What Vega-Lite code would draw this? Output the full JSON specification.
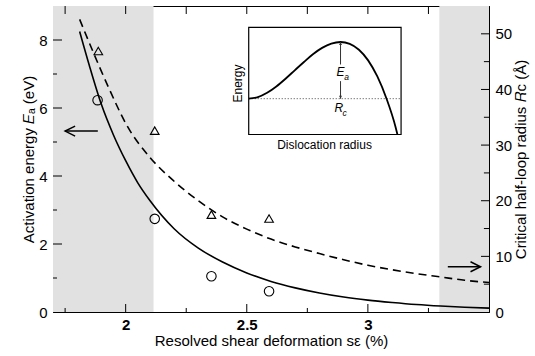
{
  "$schema": "https://vega.github.io/schema/vega-lite/v6.json",
  "width": 436,
  "height": 306,
  "autosize": {"type": "none"},
  "padding": {"left": 53, "top": 6, "right": 46, "bottom": 44},
  "background": "white",
  "config": {
    "view": {"stroke": "black", "strokeWidth": 1},
    "axis": {
      "grid": false,
      "ticks": false,
      "domainColor": "black",
      "domainWidth": 1,
      "labelColor": "black",
      "titleColor": "black",
      "labelFont": "Liberation Sans",
      "titleFont": "Liberation Sans",
      "labelFontSize": 15,
      "titleFontSize": 15,
      "titleFontWeight": "normal"
    },
    "text": {"font": "Liberation Sans", "color": "black"}
  },
  "datasets": {
    "shade": [{"x1": 1.7, "x2": 2.115}, {"x1": 3.295, "x2": 3.5}],
    "ea_fit": [
      {"s": 1.81, "ea": 8.25}, {"s": 1.85, "ea": 7.25}, {"s": 1.9, "ea": 6.1},
      {"s": 1.95, "ea": 5.2}, {"s": 2.0, "ea": 4.45}, {"s": 2.05, "ea": 3.8},
      {"s": 2.1, "ea": 3.28}, {"s": 2.2, "ea": 2.45}, {"s": 2.3, "ea": 1.88},
      {"s": 2.4, "ea": 1.47}, {"s": 2.5, "ea": 1.15}, {"s": 2.6, "ea": 0.9},
      {"s": 2.7, "ea": 0.71}, {"s": 2.8, "ea": 0.56}, {"s": 2.9, "ea": 0.44},
      {"s": 3.0, "ea": 0.35}, {"s": 3.1, "ea": 0.28}, {"s": 3.2, "ea": 0.22},
      {"s": 3.3, "ea": 0.175}, {"s": 3.4, "ea": 0.14}, {"s": 3.5, "ea": 0.115}
    ],
    "ea_pts": [
      {"s": 1.884, "ea": 6.23}, {"s": 2.12, "ea": 2.74},
      {"s": 2.354, "ea": 1.05}, {"s": 2.592, "ea": 0.61}
    ],
    "rc_fit": [
      {"s": 1.81, "rc": 52.6}, {"s": 1.866, "rc": 46.7}, {"s": 1.93, "rc": 40.3},
      {"s": 2.004, "rc": 33.6}, {"s": 2.1, "rc": 27.8}, {"s": 2.2, "rc": 23.5},
      {"s": 2.3, "rc": 20.0}, {"s": 2.4, "rc": 17.1}, {"s": 2.5, "rc": 14.9},
      {"s": 2.6, "rc": 13.1}, {"s": 2.7, "rc": 11.7}, {"s": 2.8, "rc": 10.5},
      {"s": 2.9, "rc": 9.4}, {"s": 3.0, "rc": 8.4}, {"s": 3.1, "rc": 7.6},
      {"s": 3.2, "rc": 6.9}, {"s": 3.3, "rc": 6.3}, {"s": 3.4, "rc": 5.7},
      {"s": 3.5, "rc": 5.3}
    ],
    "rc_pts": [
      {"s": 1.887, "rc": 46.9}, {"s": 2.12, "rc": 32.6},
      {"s": 2.354, "rc": 17.5}, {"s": 2.592, "rc": 16.8}
    ],
    "ticks_x": [
      {"x": 1.75, "y1": 0, "y2": 0.118}, {"x": 2.0, "y1": 0, "y2": 0.235},
      {"x": 2.25, "y1": 0, "y2": 0.118}, {"x": 2.5, "y1": 0, "y2": 0.235},
      {"x": 2.75, "y1": 0, "y2": 0.118}, {"x": 3.0, "y1": 0, "y2": 0.235},
      {"x": 3.25, "y1": 0, "y2": 0.118},
      {"x": 1.75, "y1": 9, "y2": 8.765}, {"x": 2.0, "y1": 9, "y2": 8.765},
      {"x": 2.25, "y1": 9, "y2": 8.765}, {"x": 2.5, "y1": 9, "y2": 8.765},
      {"x": 2.75, "y1": 9, "y2": 8.765}, {"x": 3.0, "y1": 9, "y2": 8.765},
      {"x": 3.25, "y1": 9, "y2": 8.765}
    ],
    "ticks_left": [
      {"y": 1, "x1": 1.7, "x2": 1.7165}, {"y": 2, "x1": 1.7, "x2": 1.7372},
      {"y": 3, "x1": 1.7, "x2": 1.7165}, {"y": 4, "x1": 1.7, "x2": 1.7372},
      {"y": 5, "x1": 1.7, "x2": 1.7165}, {"y": 6, "x1": 1.7, "x2": 1.7372},
      {"y": 7, "x1": 1.7, "x2": 1.7165}, {"y": 8, "x1": 1.7, "x2": 1.7372}
    ],
    "ticks_right": [
      {"rc": 5, "x1": 3.5, "x2": 3.479}, {"rc": 10, "x1": 3.5, "x2": 3.467},
      {"rc": 15, "x1": 3.5, "x2": 3.479}, {"rc": 20, "x1": 3.5, "x2": 3.467},
      {"rc": 25, "x1": 3.5, "x2": 3.479}, {"rc": 30, "x1": 3.5, "x2": 3.467},
      {"rc": 35, "x1": 3.5, "x2": 3.479}, {"rc": 40, "x1": 3.5, "x2": 3.467},
      {"rc": 45, "x1": 3.5, "x2": 3.479}, {"rc": 50, "x1": 3.5, "x2": 3.467}
    ],
    "arrow_lines": [
      {"x1": 1.75, "x2": 1.885, "y1": 5.32, "y2": 5.32},
      {"x1": 3.33, "x2": 3.465, "y1": 1.33, "y2": 1.33}
    ],
    "inset_arrow_lines": [
      {"x": 2.887, "y1": 7.94, "y2": 7.28},
      {"x": 2.887, "y1": 6.79, "y2": 6.274}
    ],
    "heads_left": [{"x": 1.75, "y": 5.32}],
    "heads_right": [{"x": 3.465, "y": 1.33}],
    "heads_up": [{"x": 2.887, "y": 7.94}],
    "heads_down": [{"x": 2.887, "y": 6.274}],
    "inset_box": [{"x1": 2.508, "x2": 3.137, "y1": 5.22, "y2": 8.37}],
    "inset_curve": [
      {"r": 2.508, "e": 6.274}, {"r": 2.546, "e": 6.321}, {"r": 2.584, "e": 6.447},
      {"r": 2.622, "e": 6.634}, {"r": 2.66, "e": 6.861}, {"r": 2.698, "e": 7.108},
      {"r": 2.736, "e": 7.354}, {"r": 2.773, "e": 7.581}, {"r": 2.811, "e": 7.768},
      {"r": 2.849, "e": 7.894}, {"r": 2.887, "e": 7.941}, {"r": 2.925, "e": 7.888},
      {"r": 2.963, "e": 7.714}, {"r": 3.001, "e": 7.401}, {"r": 3.039, "e": 6.927},
      {"r": 3.077, "e": 6.274}, {"r": 3.115, "e": 5.421}, {"r": 3.122, "e": 5.22}
    ],
    "inset_level": [{"x1": 2.508, "x2": 3.137, "y": 6.274}],
    "labels_big": [
      {"x": 2.887, "y": 7.07, "t": "E"},
      {"x": 2.88, "y": 6.01, "t": "R"}
    ],
    "labels_sub": [
      {"x": 2.912, "y": 6.91, "t": "a"},
      {"x": 2.904, "y": 5.84, "t": "c"}
    ],
    "labels_plain": [
      {"x": 2.821, "y": 4.9, "t": "Dislocation radius"}
    ],
    "labels_rot": [
      {"x": 2.463, "y": 6.72, "t": "Energy"}
    ]
  },
  "layer": [
    {
      "layer": [
        {
          "data": {"name": "shade"},
          "mark": {"type": "rect", "fill": "#e1e1e1"},
          "encoding": {
            "x": {
              "field": "x1", "type": "quantitative",
              "scale": {"domain": [1.7, 3.5], "nice": false, "zero": false},
              "axis": {
                "orient": "bottom",
                "title": "Resolved shear deformation sε (%)",
                "values": [2, 2.5, 3],
                "format": "~g",
                "labelFontWeight": "bold",
                "labelPadding": 5,
                "titlePadding": 1
              }
            },
            "x2": {"field": "x2"}
          }
        },
        {
          "data": {"name": "ea_fit"},
          "mark": {"type": "line", "color": "black", "strokeWidth": 1.6, "interpolate": "monotone"},
          "encoding": {
            "x": {"field": "s", "type": "quantitative", "scale": {"domain": [1.7, 3.5], "nice": false, "zero": false}},
            "y": {
              "field": "ea", "type": "quantitative",
              "scale": {"domain": [0, 9], "nice": false},
              "axis": {
                "orient": "left",
                "title": "Activation energy 𝐸ₐ (eV)",
                "values": [0, 2, 4, 6, 8],
                "format": "d",
                "labelPadding": 6,
                "titlePadding": 2
              }
            }
          }
        },
        {
          "data": {"name": "ea_pts"},
          "mark": {"type": "point", "shape": "circle", "filled": false, "stroke": "black", "strokeWidth": 1.1, "size": 90, "opacity": 1},
          "encoding": {
            "x": {"field": "s", "type": "quantitative"},
            "y": {"field": "ea", "type": "quantitative"}
          }
        },
        {
          "data": {"name": "arrow_lines"},
          "mark": {"type": "rule", "color": "black", "strokeWidth": 1.5},
          "encoding": {
            "x": {"field": "x1", "type": "quantitative"},
            "x2": {"field": "x2"},
            "y": {"field": "y1", "type": "quantitative"},
            "y2": {"field": "y2"}
          }
        },
        {
          "data": {"name": "heads_left"},
          "mark": {"type": "point", "shape": "M2,-1L0,0L2,1", "filled": false, "stroke": "black", "strokeWidth": 1.5, "size": 100, "opacity": 1},
          "encoding": {
            "x": {"field": "x", "type": "quantitative"},
            "y": {"field": "y", "type": "quantitative"}
          }
        },
        {
          "data": {"name": "heads_right"},
          "mark": {"type": "point", "shape": "M-2,-1L0,0L-2,1", "filled": false, "stroke": "black", "strokeWidth": 1.5, "size": 100, "opacity": 1},
          "encoding": {
            "x": {"field": "x", "type": "quantitative"},
            "y": {"field": "y", "type": "quantitative"}
          }
        },
        {
          "data": {"name": "inset_box"},
          "mark": {"type": "rect", "fill": "white", "stroke": "black", "strokeWidth": 1.2},
          "encoding": {
            "x": {"field": "x1", "type": "quantitative"},
            "x2": {"field": "x2"},
            "y": {"field": "y1", "type": "quantitative"},
            "y2": {"field": "y2"}
          }
        },
        {
          "data": {"name": "inset_level"},
          "mark": {"type": "rule", "color": "#444444", "strokeWidth": 1, "strokeDash": [1, 2]},
          "encoding": {
            "x": {"field": "x1", "type": "quantitative"},
            "x2": {"field": "x2"},
            "y": {"field": "y", "type": "quantitative"}
          }
        },
        {
          "data": {"name": "inset_curve"},
          "mark": {"type": "line", "color": "black", "strokeWidth": 1.8, "interpolate": "monotone"},
          "encoding": {
            "x": {"field": "r", "type": "quantitative"},
            "y": {"field": "e", "type": "quantitative"}
          }
        },
        {
          "data": {"name": "inset_arrow_lines"},
          "mark": {"type": "rule", "color": "#333333", "strokeWidth": 1},
          "encoding": {
            "x": {"field": "x", "type": "quantitative"},
            "y": {"field": "y1", "type": "quantitative"},
            "y2": {"field": "y2"}
          }
        },
        {
          "data": {"name": "heads_up"},
          "mark": {"type": "point", "shape": "M-1,2L0,0L1,2Z", "filled": true, "fill": "#333333", "strokeWidth": 0, "size": 9, "opacity": 1},
          "encoding": {
            "x": {"field": "x", "type": "quantitative"},
            "y": {"field": "y", "type": "quantitative"}
          }
        },
        {
          "data": {"name": "heads_down"},
          "mark": {"type": "point", "shape": "M-1,-2L0,0L1,-2Z", "filled": true, "fill": "#333333", "strokeWidth": 0, "size": 9, "opacity": 1},
          "encoding": {
            "x": {"field": "x", "type": "quantitative"},
            "y": {"field": "y", "type": "quantitative"}
          }
        },
        {
          "data": {"name": "labels_big"},
          "mark": {"type": "text", "fontSize": 12, "fontStyle": "italic", "align": "center", "baseline": "middle"},
          "encoding": {
            "x": {"field": "x", "type": "quantitative"},
            "y": {"field": "y", "type": "quantitative"},
            "text": {"field": "t"}
          }
        },
        {
          "data": {"name": "labels_sub"},
          "mark": {"type": "text", "fontSize": 8.5, "fontStyle": "italic", "align": "center", "baseline": "middle"},
          "encoding": {
            "x": {"field": "x", "type": "quantitative"},
            "y": {"field": "y", "type": "quantitative"},
            "text": {"field": "t"}
          }
        },
        {
          "data": {"name": "labels_plain"},
          "mark": {"type": "text", "fontSize": 12, "align": "center", "baseline": "middle"},
          "encoding": {
            "x": {"field": "x", "type": "quantitative"},
            "y": {"field": "y", "type": "quantitative"},
            "text": {"field": "t"}
          }
        },
        {
          "data": {"name": "labels_rot"},
          "mark": {"type": "text", "fontSize": 12, "angle": 270, "align": "center", "baseline": "middle"},
          "encoding": {
            "x": {"field": "x", "type": "quantitative"},
            "y": {"field": "y", "type": "quantitative"},
            "text": {"field": "t"}
          }
        },
        {
          "data": {"name": "ticks_x"},
          "mark": {"type": "rule", "color": "black", "strokeWidth": 1},
          "encoding": {
            "x": {"field": "x", "type": "quantitative"},
            "y": {"field": "y1", "type": "quantitative"},
            "y2": {"field": "y2"}
          }
        },
        {
          "data": {"name": "ticks_left"},
          "mark": {"type": "rule", "color": "black", "strokeWidth": 1},
          "encoding": {
            "x": {"field": "x1", "type": "quantitative"},
            "x2": {"field": "x2"},
            "y": {"field": "y", "type": "quantitative"}
          }
        }
      ]
    },
    {
      "layer": [
        {
          "data": {"name": "rc_fit"},
          "mark": {"type": "line", "color": "black", "strokeWidth": 1.6, "strokeDash": [8, 5], "interpolate": "monotone"},
          "encoding": {
            "x": {
              "field": "s", "type": "quantitative",
              "scale": {"domain": [1.7, 3.5], "nice": false, "zero": false},
              "axis": {"orient": "top", "title": null, "labels": false}
            },
            "y": {
              "field": "rc", "type": "quantitative",
              "scale": {"domain": [0, 55], "nice": false},
              "axis": {
                "orient": "right",
                "title": "Critical half-loop radius 𝑅c (Å)",
                "titleAngle": 270,
                "titleBaseline": "top",
                "values": [0, 10, 20, 30, 40, 50],
                "format": "d",
                "labelPadding": 6,
                "titlePadding": 2
              }
            }
          }
        },
        {
          "data": {"name": "rc_pts"},
          "mark": {"type": "point", "shape": "triangle-up", "filled": false, "stroke": "black", "strokeWidth": 1.1, "size": 75, "opacity": 1},
          "encoding": {
            "x": {"field": "s", "type": "quantitative"},
            "y": {"field": "rc", "type": "quantitative"}
          }
        },
        {
          "data": {"name": "ticks_right"},
          "mark": {"type": "rule", "color": "black", "strokeWidth": 1},
          "encoding": {
            "x": {"field": "x1", "type": "quantitative"},
            "x2": {"field": "x2"},
            "y": {"field": "rc", "type": "quantitative"}
          }
        }
      ]
    }
  ],
  "resolve": {"scale": {"x": "independent", "y": "independent"}}
}
